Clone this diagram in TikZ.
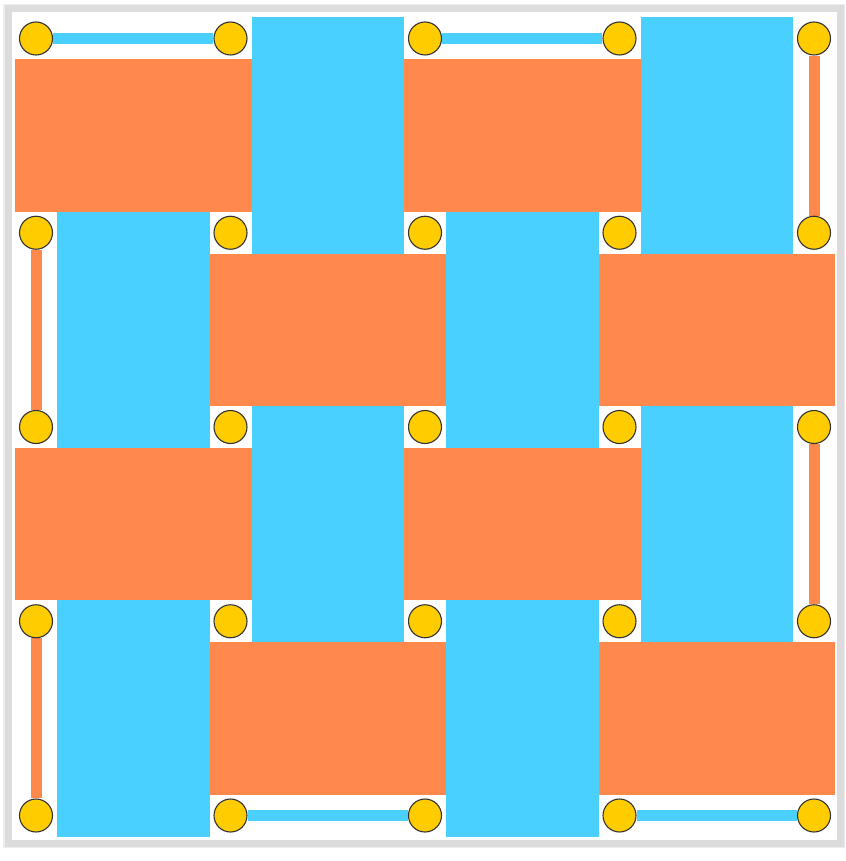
\documentclass[tikz,border=0pt]{standalone}
\usetikzlibrary{backgrounds}
\definecolor{wOrange}{HTML}{FF884D}
\definecolor{wBlue}{HTML}{4AD0FF}
\definecolor{wGold}{HTML}{FFCC00}
\definecolor{wFrame}{HTML}{DCDCDC}
\definecolor{wShade}{HTML}{EDEDED}
\definecolor{wRim}{HTML}{333333}
\tikzset{
  dot/.style={circle, minimum size=33pt, inner sep=0pt, fill=wGold, draw=wRim, line width=1.1pt},
  bluebar/.style={draw=wBlue, line width=11pt},
  orangebar/.style={draw=wOrange, line width=11pt},
  framebox/.style={draw=wFrame, line width=7pt, fill=white}
}
\begin{document}
\begin{tikzpicture}[x=1pt,y=-1pt]
\useasboundingbox (0,0) rectangle (845,861);
% yellow dots
\foreach \i in {0,...,4}{
  \foreach \j in {0,...,4}{
    \node[dot] (p\i\j) at ({36+194.5*\i},{38.5+194.25*\j}) {};
  }
}
\begin{scope}[on background layer]
  \draw[wShade, line width=2pt] (4,5) rectangle (844,847);
  \draw[framebox] (8,9) rectangle (840.5,843.5);
  % woven rectangles
  \foreach \i in {0,...,3}{
    \foreach \j in {0,...,3}{
      \pgfmathtruncatemacro\pty{mod(\i+\j,2)}
      \pgfmathsetmacro\xa{36+194.5*\i}
      \pgfmathsetmacro\xb{36+194.5*(\i+1)}
      \pgfmathsetmacro\ya{38.5+194.25*\j}
      \pgfmathsetmacro\yb{38.5+194.25*(\j+1)}
      \ifnum\pty=0
        \fill[wOrange] (\xa-21,\ya+21) rectangle (\xb+21,\yb-21);
      \else
        \fill[wBlue] (\xa+21,\ya-21) rectangle (\xb-21,\yb+21);
      \fi
    }
  }
  % edge bars
  \draw[bluebar] (p00) -- (p10);
  \draw[bluebar] (p20) -- (p30);
  \draw[bluebar] (p14) -- (p24);
  \draw[bluebar] (p34) -- (p44);
  \draw[orangebar] (p40) -- (p41);
  \draw[orangebar] (p42) -- (p43);
  \draw[orangebar] (p01) -- (p02);
  \draw[orangebar] (p03) -- (p04);
\end{scope}
\end{tikzpicture}
\end{document}
